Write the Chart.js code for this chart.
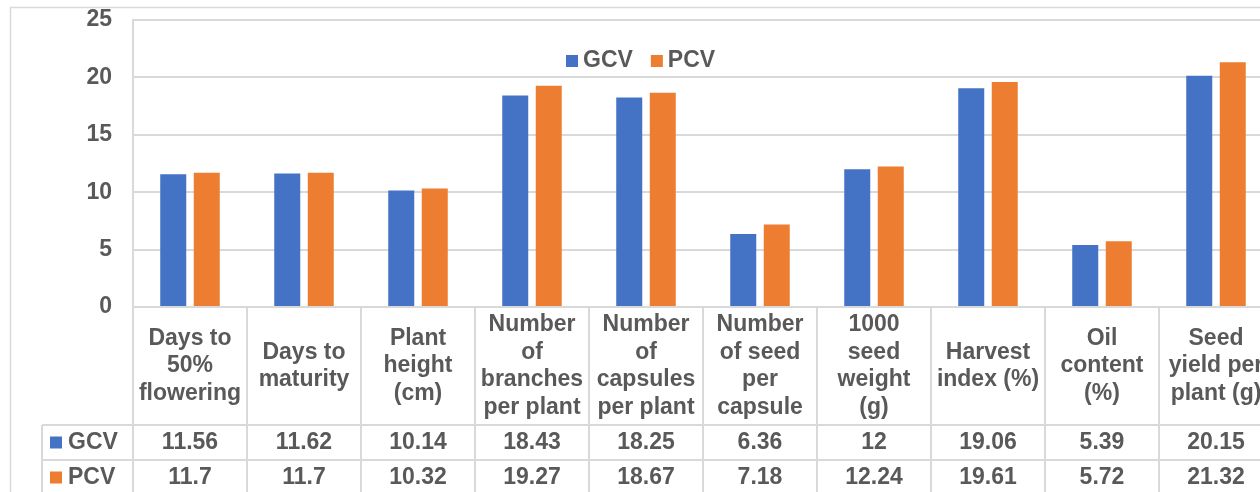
<!DOCTYPE html>
<html>
<head>
<meta charset="utf-8">
<script src="https://cdn.jsdelivr.net/npm/chart.js@4.4.1/dist/chart.umd.min.js"></script>
<style>
  html, body { margin: 0; padding: 0; background: #fff; overflow: hidden; }
  #wrap { width: 1300px; height: 492px; }
</style>
</head>
<body>
<div id="wrap"><canvas id="chart" width="1300" height="492"></canvas></div>
<script>
// categories (header cells of the data table, one array per wrapped line set)
const categories = [
    ['Days to', '50%', 'flowering'],
    ['Days to', 'maturity'],
    ['Plant', 'height', '(cm)'],
    ['Number', 'of', 'branches', 'per plant'],
    ['Number', 'of', 'capsules', 'per plant'],
    ['Number', 'of seed', 'per', 'capsule'],
    ['1000', 'seed', 'weight', '(g)'],
    ['Harvest', 'index (%)'],
    ['Oil', 'content', '(%)'],
    ['Seed', 'yield per', 'plant (g)']
];
const gcvValues = [11.56, 11.62, 10.14, 18.43, 18.25, 6.36, 12, 19.06, 5.39, 20.15];
const pcvValues = [11.7, 11.7, 10.32, 19.27, 18.67, 7.18, 12.24, 19.61, 5.72, 21.32];
const yTicks = [0, 5, 10, 15, 20, 25];

const TEXT = '#595959';
const LINE = '#d9d9d9';
const FONT = 'bold 23px "Liberation Sans", Arial, sans-serif';

// frame, legend and data table drawn around the plot
const tablePlugin = {
    id: 'dataTable',
    beforeDraw: (chart) => {
        const ctx = chart.ctx;
        ctx.save();
        ctx.strokeStyle = LINE;
        ctx.lineWidth = 1.5;
        ctx.beginPath();
        ctx.moveTo(10.5, 600);
        ctx.lineTo(10.5, 7.5);
        ctx.lineTo(1400, 7.5);
        ctx.stroke();
        ctx.restore();
    },
    afterDraw: (chart) => {
        const ctx = chart.ctx;
        const x = chart.scales.x;
        const area = chart.chartArea;
        const n = categories.length;
        const colW = (x.right - x.left) / n;
        const top = area.bottom;
        const rowHead = top + 118;
        const row1 = rowHead + 35;
        const row2 = row1 + 35;
        const keyLeft = 42;

        ctx.save();
        ctx.strokeStyle = LINE;
        ctx.lineWidth = 2;
        ctx.beginPath();
        [rowHead, row1, row2].forEach(y => {
            ctx.moveTo(keyLeft, y);
            ctx.lineTo(x.right + 40, y);
        });
        for (let k = 0; k <= n; k++) {
            const px = x.left + colW * k;
            ctx.moveTo(px, top);
            ctx.lineTo(px, row2 + 5);
        }
        ctx.moveTo(keyLeft, rowHead);
        ctx.lineTo(keyLeft, row2 + 5);
        ctx.stroke();

        ctx.fillStyle = TEXT;
        ctx.font = FONT;
        ctx.textAlign = 'center';
        ctx.textBaseline = 'middle';
        const lh = 27.5;
        const headMid = (top + rowHead) / 2;
        categories.forEach((lines, i) => {
            const cx = x.getPixelForValue(i);
            const y0 = headMid - (lines.length - 1) * lh / 2;
            lines.forEach((t, j) => ctx.fillText(t, cx, y0 + j * lh));
        });

        const rows = [
            { data: gcvValues, ds: chart.data.datasets[0], y: (rowHead + row1) / 2 },
            { data: pcvValues, ds: chart.data.datasets[1], y: (row1 + row2) / 2 }
        ];
        rows.forEach(r => {
            ctx.textAlign = 'center';
            ctx.fillStyle = TEXT;
            r.data.forEach((v, i) => ctx.fillText(String(v), x.getPixelForValue(i), r.y));
            ctx.fillStyle = r.ds.backgroundColor;
            ctx.fillRect(50, r.y - 6, 12, 12);
            ctx.fillStyle = TEXT;
            ctx.textAlign = 'left';
            ctx.fillText(r.ds.label, 68, r.y);
        });

        // legend inside the plot
        const legY = 61;
        let lx = 566;
        chart.data.datasets.forEach(ds => {
            ctx.fillStyle = ds.backgroundColor;
            ctx.fillRect(lx, legY - 6, 12, 12);
            ctx.fillStyle = TEXT;
            ctx.textAlign = 'left';
            ctx.fillText(ds.label, lx + 17, legY);
            lx += 17 + ctx.measureText(ds.label).width + 18;
        });
        ctx.restore();
    }
};

new Chart(document.getElementById('chart'), {
    type: 'bar',
    data: {
        labels: categories,
        datasets: [
            { label: 'GCV', data: gcvValues, backgroundColor: '#4472C4' },
            { label: 'PCV', data: pcvValues, backgroundColor: '#ED7D31' }
        ]
    },
    options: {
        responsive: false,
        devicePixelRatio: 1,
        animation: false,
        categoryPercentage: 0.588,
        barPercentage: 0.776,
        layout: { padding: { top: 20, right: 27, bottom: 185, left: 0 } },
        plugins: {
            legend: { display: false },
            tooltip: { enabled: false }
        },
        scales: {
            x: {
                ticks: { display: false },
                grid: { display: false },
                border: { display: true, color: LINE, width: 2 },
                afterFit: (scale) => { scale.height = 0; }
            },
            y: {
                min: yTicks[0],
                max: yTicks[yTicks.length - 1],
                afterBuildTicks: (scale) => { scale.ticks = yTicks.map(v => ({ value: v })); },
                ticks: {
                    padding: 0,
                    color: TEXT,
                    font: { family: '"Liberation Sans", Arial, sans-serif', size: 23, weight: 'bold' }
                },
                grid: { color: LINE, lineWidth: 2, drawTicks: true, tickLength: 21, tickColor: 'rgba(0,0,0,0)' },
                border: { display: true, color: LINE, width: 2 },
                afterFit: (scale) => { scale.width = 133; }
            }
        }
    },
    plugins: [tablePlugin]
});
</script>
</body>
</html>
